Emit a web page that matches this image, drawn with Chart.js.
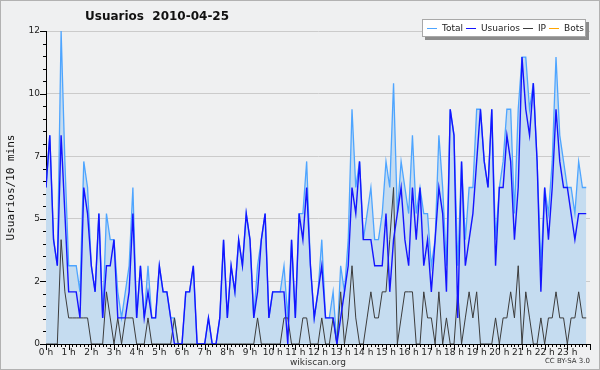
<!DOCTYPE html>
<html>
<head>
<meta charset="utf-8">
<title>Usuarios 2010-04-25</title>
<script src="https://cdn.jsdelivr.net/npm/chart.js@4.4.1/dist/chart.umd.min.js"></script>
<style>
    body { margin: 0; background: #ffffff; }
    #wrap { position: relative; width: 600px; height: 370px; background: #eff0f1; font-family: "DejaVu Sans", sans-serif; }
    #frame { position: absolute; left: 0; top: 0; width: 598px; height: 368px; border: 1px solid #b2b2b2; pointer-events: none; }
    #chart { position: absolute; left: 0; top: 0; }
    #title { position: absolute; left: 85px; top: 9px; font-size: 12px; font-weight: bold; color: #111; white-space: pre; }
    #legend { position: absolute; left: 422px; top: 19px; width: 158px; height: 16px; padding: 0 0 0 4px; background: #fff; border: 1px solid #a8a8a8; box-shadow: 3px 3px 0 #8c8c8c; font-size: 9px; color: #222; white-space: nowrap; display: flex; align-items: center; }
    #legend span { display: flex; align-items: center; margin-right: 3px; }
    #legend i { display: inline-block; width: 10px; height: 1px; margin-right: 5px; }
    #credit { position: absolute; right: 10px; top: 357px; font-size: 7px; color: #333; }
</style>
</head>
<body>
<div id="wrap">
    <canvas id="chart" width="600" height="370"></canvas>
    <div id="title">Usuarios  2010-04-25</div>
    <div id="legend">
        <span><i style="background:#4ea5ff"></i>Total</span>
        <span><i style="background:#1414ff"></i>Usuarios</span>
        <span><i style="background:#3c3c3c"></i>IP</span>
        <span><i style="background:#ffa500"></i>Bots</span>
    </div>
    <div id="credit">CC BY-SA 3.0</div>
    <div id="frame"></div>
</div>
<script>
    // one value per 10 minutes, one row per hour
    const total = [
        6, 8, 4, 3, 12, 7,
        3, 3, 3, 2, 7, 6,
        3, 2, 5, 1, 5, 4,
        4, 2, 1, 2, 3, 6,
        1, 3, 1, 3, 1, 1,
        3, 2, 2, 1, 1, 0,
        0, 2, 2, 3, 0, 0,
        0, 1, 0, 0, 1, 4,
        1, 3, 2, 4, 3, 5,
        4, 1, 3, 4, 5, 1,
        2, 2, 2, 3, 1, 4,
        1, 5, 5, 7, 3, 1,
        2, 4, 1, 1, 2, 0,
        3, 2, 4, 9, 6, 7,
        4, 5, 6, 4, 4, 5,
        7, 6, 10, 5, 7, 6,
        5, 8, 5, 6, 5, 5,
        3, 4, 8, 6, 3, 9,
        8, 3, 7, 4, 6, 6,
        9, 9, 7, 6, 9, 4,
        6, 7, 9, 9, 5, 9,
        11, 11, 9, 10, 7, 3,
        6, 5, 7, 11, 8, 7,
        6, 6, 5, 7, 6, 6
    ];
    const usuarios = [
        6, 8, 4, 3, 8, 5,
        2, 2, 2, 1, 6, 5,
        3, 2, 5, 1, 3, 3,
        4, 1, 1, 1, 2, 5,
        1, 3, 1, 2, 1, 1,
        3, 2, 2, 1, 0, 0,
        0, 2, 2, 3, 0, 0,
        0, 1, 0, 0, 1, 4,
        1, 3, 2, 4, 3, 5,
        4, 1, 2, 4, 5, 1,
        2, 2, 2, 2, 0, 4,
        1, 5, 4, 6, 3, 1,
        2, 3, 1, 1, 1, 0,
        1, 2, 3, 6, 5, 7,
        4, 4, 4, 3, 3, 3,
        5, 2, 4, 5, 6, 4,
        3, 6, 4, 6, 3, 4,
        2, 4, 6, 5, 2, 9,
        8, 1, 7, 3, 4, 5,
        7, 9, 7, 6, 9, 3,
        6, 6, 8, 7, 4, 6,
        11, 9, 8, 10, 7, 2,
        6, 4, 6, 9, 7, 6,
        6, 5, 4, 5, 5, 5
    ];
    const ip = [
        0, 0, 0, 0, 4, 2,
        1, 1, 1, 1, 1, 1,
        0, 0, 0, 0, 2, 1,
        0, 1, 0, 1, 1, 1,
        0, 0, 0, 1, 0, 0,
        0, 0, 0, 0, 1, 0,
        0, 0, 0, 0, 0, 0,
        0, 0, 0, 0, 0, 0,
        0, 0, 0, 0, 0, 0,
        0, 0, 1, 0, 0, 0,
        0, 0, 0, 1, 1, 0,
        0, 0, 1, 1, 0, 0,
        0, 1, 0, 0, 1, 0,
        2, 0, 1, 3, 1, 0,
        0, 1, 2, 1, 1, 2,
        2, 4, 6, 0, 1, 2,
        2, 2, 0, 0, 2, 1,
        1, 0, 2, 0, 1, 0,
        0, 2, 0, 1, 2, 1,
        2, 0, 0, 0, 0, 1,
        0, 1, 1, 2, 1, 3,
        0, 2, 1, 0, 0, 1,
        0, 1, 1, 2, 1, 1,
        0, 1, 1, 2, 1, 1
    ];
    const bots = [
        0, 0, 0, 0, 0, 0,  0, 0, 0, 0, 0, 0,  0, 0, 0, 0, 0, 0,  0, 0, 0, 0, 0, 0,
        0, 0, 0, 0, 0, 0,  0, 0, 0, 0, 0, 0,  0, 0, 0, 0, 0, 0,  0, 0, 0, 0, 0, 0,
        0, 0, 0, 0, 0, 0,  0, 0, 0, 0, 0, 0,  0, 0, 0, 0, 0, 0,  0, 0, 0, 0, 0, 0,
        0, 0, 0, 0, 0, 0,  0, 0, 0, 0, 0, 0,  0, 0, 0, 0, 0, 0,  0, 0, 0, 0, 0, 0,
        0, 0, 0, 0, 0, 0,  0, 0, 0, 0, 0, 0,  0, 0, 0, 0, 0, 0,  0, 0, 0, 0, 0, 0,
        0, 0, 0, 0, 0, 0,  0, 0, 0, 0, 0, 0,  0, 0, 0, 0, 0, 0,  0, 0, 0, 0, 0, 0
    ];
    const yTickLabels = ["0", "2", "5", "7", "10", "12"];

    // x positions: slot number of each 10 minute interval
    const slots = [];
    for (let i = 0; i < usuarios.length; i++) slots.push(i);

    const axisTicks = {
        id: "axisTicks",
        afterDraw(chart) {
            const { ctx, chartArea: a, scales: { x, y } } = chart;
            ctx.save();
            ctx.strokeStyle = "#000";
            ctx.lineWidth = 1;
            ctx.beginPath();
            for (let i = 0; i <= 144; i++) {
                const px = Math.round(x.getPixelForValue(i)) + 0.5;
                ctx.moveTo(px, a.bottom);
                ctx.lineTo(px, a.bottom + (i % 6 === 0 ? 6 : 3));
            }
            for (let k = 0; k <= 25; k++) {
                const py = Math.round(y.getPixelForValue(k * 0.48)) + 0.5;
                ctx.moveTo(a.left, py);
                ctx.lineTo(a.left - (k % 5 === 0 ? 6 : 3), py);
            }
            ctx.stroke();
            ctx.restore();
        }
    };

    new Chart(document.getElementById("chart"), {
        type: "line",
        data: {
            labels: slots,
            datasets: [
                { label: "Usuarios", data: usuarios, borderColor: "#1414ff", borderWidth: 1.4, order: 0 },
                { label: "IP", data: ip, borderColor: "#3c3c3c", borderWidth: 1, order: 1 },
                { label: "Total", data: total, borderColor: "#4ea5ff", borderWidth: 1.3, fill: "origin", backgroundColor: "#c5dcf0", order: 2 },
                { label: "Bots", data: bots, borderColor: "#ffa500", borderWidth: 1, order: 3 }
            ]
        },
        options: {
            responsive: false,
            animation: false,
            events: [],
            layout: { padding: { top: 31, right: 10, left: 0, bottom: 0 } },
            elements: { point: { radius: 0 }, line: { tension: 0 } },
            plugins: { legend: { display: false }, tooltip: { enabled: false } },
            scales: {
                x: {
                    type: "linear",
                    min: 0,
                    max: 144,
                    z: 1,
                    afterFit: s => { s.height = 26; },
                    grid: { display: false, drawTicks: false },
                    border: { display: true, color: "#000", width: 1 },
                    ticks: {
                        stepSize: 6,
                        autoSkip: false,
                        maxRotation: 0,
                        padding: 3,
                        color: "#222",
                        font: { family: "DejaVu Sans", size: 9 },
                        callback: v => (v < 144 ? (v / 6) + " h" : "")
                    },
                    title: {
                        display: true,
                        text: "wikiscan.org",
                        color: "#333",
                        padding: { top: 0, bottom: 2 },
                        font: { family: "DejaVu Sans", size: 9 }
                    }
                },
                y: {
                    min: 0,
                    max: 12,
                    afterFit: s => { s.width = 46; },
                    grid: { color: "#cbcbcb", drawTicks: false },
                    border: { display: true, color: "#000", width: 1 },
                    ticks: {
                        stepSize: 2.4,
                        padding: 6,
                        color: "#222",
                        font: { family: "DejaVu Sans", size: 9 },
                        callback: (v, idx) => yTickLabels[idx]
                    },
                    title: {
                        display: true,
                        text: "Usuarios/10 mins",
                        color: "#111",
                        padding: { top: 5, bottom: 0 },
                        font: { family: "DejaVu Sans Mono", size: 11 }
                    }
                }
            }
        },
        plugins: [axisTicks]
    });
</script>
</body>
</html>
